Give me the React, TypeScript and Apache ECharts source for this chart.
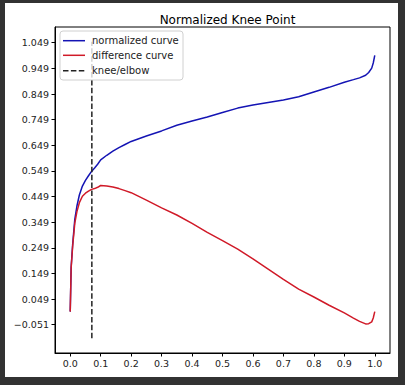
import React, { useEffect, useRef } from "react";
import * as echarts from "echarts";

const xValues = [0, 0.003, 0.008, 0.015, 0.022, 0.03, 0.04, 0.05, 0.06, 0.07, 0.08, 0.09, 0.1, 0.12, 0.14, 0.16, 0.18, 0.2, 0.25, 0.3, 0.35, 0.4, 0.45, 0.5, 0.55, 0.6, 0.65, 0.7, 0.75, 0.8, 0.85, 0.9, 0.93, 0.95, 0.97, 0.98, 0.99, 0.995, 1.0];
const normalizedCurve = [0, 0.173, 0.263, 0.36, 0.412, 0.455, 0.49, 0.512, 0.53, 0.547, 0.56, 0.575, 0.592, 0.61, 0.626, 0.64, 0.652, 0.664, 0.685, 0.705, 0.727, 0.744, 0.759, 0.777, 0.794, 0.806, 0.816, 0.826, 0.838, 0.857, 0.875, 0.895, 0.905, 0.912, 0.922, 0.933, 0.95, 0.97, 1.0];
const differenceCurve = [0, 0.17, 0.255, 0.345, 0.39, 0.425, 0.45, 0.462, 0.47, 0.477, 0.48, 0.485, 0.492, 0.49, 0.486, 0.48, 0.472, 0.464, 0.435, 0.405, 0.377, 0.344, 0.309, 0.277, 0.244, 0.206, 0.166, 0.126, 0.088, 0.057, 0.025, -0.005, -0.025, -0.038, -0.048, -0.047, -0.04, -0.025, 0];
const kneeX = 0.071;
const kneeYRange = [-0.1036, 1.0526];
const xTicks = [0, 0.1, 0.2, 0.3, 0.4, 0.5, 0.6, 0.7, 0.8, 0.9, 1.0];
const yTicks = [-0.051, 0.049, 0.149, 0.249, 0.349, 0.449, 0.549, 0.649, 0.749, 0.849, 0.949, 1.049];
const legendLabels = ["normalized curve", "difference curve", "knee/elbow"];

const BLUE = "#1414b4";
const RED = "#d01a28";
const FONT = "DejaVu Sans";

export default function App() {
  const ref = useRef<HTMLDivElement>(null);
  useEffect(() => {
    if (!ref.current) return;
    const chart = echarts.init(ref.current, null, { renderer: "svg" });
    const normData = xValues.map((x, i) => [x, normalizedCurve[i]]);
    const diffData = xValues.map((x, i) => [x, differenceCurve[i]]);
    const legendColors = [BLUE, RED, "#222"];
    const rowsY = [37.7, 52.3, 67.7];
    const legendEls: any[] = [
      {
        type: "rect",
        shape: { x: 55, y: 28, width: 123, height: 49, r: 3 },
        style: { fill: "rgba(255,255,255,0.8)", stroke: "#d0d0d0", lineWidth: 1 },
        z: 100,
      },
    ];
    legendLabels.forEach((lab, i) => {
      legendEls.push({
        type: "line",
        shape: { x1: 58, y1: rowsY[i], x2: 80, y2: rowsY[i] },
        style: {
          stroke: legendColors[i],
          lineWidth: 1.5,
          lineDash: i === 2 ? [5.5, 2.4] : null,
        },
        z: 101,
      });
      legendEls.push({
        type: "text",
        x: 87,
        y: rowsY[i],
        style: {
          text: lab,
          fill: "#222",
          font: `10px "${FONT}"`,
          textVerticalAlign: "middle",
          textAlign: "left",
        },
        z: 101,
      });
    });
    chart.setOption({
      animation: false,
      backgroundColor: "#ffffff",
      title: {
        text: "Normalized Knee Point",
        left: 217.5,
        top: 6,
        textAlign: "center",
        textStyle: { fontSize: 12, fontWeight: "normal", fontFamily: FONT, color: "#000" },
      },
      grid: {
        left: 50,
        top: 24,
        right: 8,
        bottom: 24,
        show: true,
        borderColor: "#000",
        borderWidth: 1,
        backgroundColor: "transparent",
      },
      xAxis: {
        type: "value",
        min: -0.05,
        max: 1.05,
        splitLine: { show: false },
        axisLine: { show: true, onZero: false, lineStyle: { color: "#000", width: 1 } },
        axisTick: { show: true, length: 3.5, lineStyle: { color: "#000" }, customValues: xTicks },
        axisLabel: {
          customValues: xTicks,
          margin: 5,
          fontSize: 9.5,
          fontFamily: FONT,
          color: "#222",
          formatter: (v: number) => v.toFixed(1),
        },
      },
      yAxis: {
        type: "value",
        min: -0.1614,
        max: 1.1104,
        splitLine: { show: false },
        axisLine: { show: true, onZero: false, lineStyle: { color: "#000", width: 1 } },
        axisTick: { show: true, length: 3.5, lineStyle: { color: "#000" }, customValues: yTicks },
        axisLabel: {
          customValues: yTicks,
          margin: 6,
          fontSize: 9.5,
          fontFamily: FONT,
          color: "#222",
          formatter: (v: number) => (v < 0 ? "\u2212" : "") + Math.abs(v).toFixed(3),
        },
      },
      series: [
        {
          name: "normalized curve",
          type: "line",
          data: normData,
          showSymbol: false,
          lineStyle: { color: BLUE, width: 1.5 },
          itemStyle: { color: BLUE },
          z: 3,
        },
        {
          name: "difference curve",
          type: "line",
          data: diffData,
          showSymbol: false,
          lineStyle: { color: RED, width: 1.5 },
          itemStyle: { color: RED },
          z: 4,
        },
        {
          name: "knee/elbow",
          type: "line",
          data: [
            [kneeX, kneeYRange[0]],
            [kneeX, kneeYRange[1]],
          ],
          showSymbol: false,
          lineStyle: { color: "#222", width: 1.5, type: [5.5, 2.4] },
          itemStyle: { color: "#222" },
          z: 5,
        },
      ],
      graphic: legendEls,
    });
    return () => chart.dispose();
  }, []);
  return (
    <div style={{ position: "fixed", left: 0, top: 0, width: 405, height: 385, background: "#323232" }}>
      <div ref={ref} style={{ position: "absolute", left: 5, top: 3, width: 393, height: 374, background: "#fff" }} />
    </div>
  );
}
